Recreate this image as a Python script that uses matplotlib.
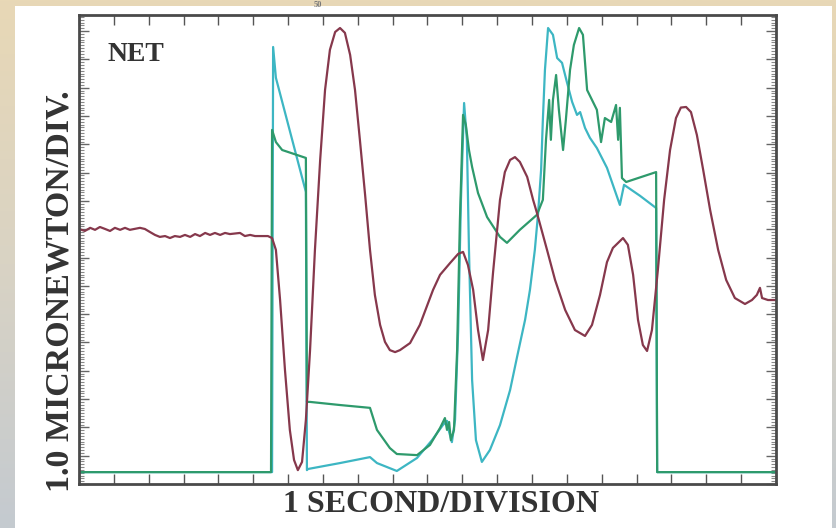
import numpy as np
import matplotlib
matplotlib.use("Agg")
import matplotlib.pyplot as plt
from matplotlib.patches import Rectangle
from matplotlib.ticker import MultipleLocator

# time in seconds (1 s / division), force in micronewtons (1.0 uN / division)
maroon_t = [0, 0.17, 0.32, 0.46, 0.60, 0.75, 0.89, 1.03, 1.18, 1.32, 1.46, 1.75, 1.89,
            2.04, 2.18, 2.32, 2.47, 2.61, 2.75, 2.90, 3.04, 3.19, 3.33, 3.47, 3.62, 3.76,
            3.90, 4.05, 4.19, 4.33, 4.62, 4.76, 4.91, 5.05, 5.25, 5.42, 5.54, 5.65, 5.77,
            5.91, 6.05, 6.17, 6.28, 6.40, 6.51, 6.63, 6.77, 6.92, 7.06, 7.20, 7.35, 7.49,
            7.63, 7.78, 7.92, 8.06, 8.21, 8.35, 8.49, 8.64, 8.78, 8.92, 9.07, 9.21, 9.50,
            9.78, 10.16, 10.36, 10.65, 10.88, 11.02, 11.16, 11.31, 11.45, 11.59, 11.74,
            11.88, 12.08, 12.22, 12.37, 12.51, 12.65, 12.86, 13.03, 13.14, 13.43, 13.66,
            13.95, 14.23, 14.52, 14.72, 14.95, 15.15, 15.32, 15.47, 15.61, 15.75, 15.90,
            16.04, 16.18, 16.30, 16.44, 16.61, 16.79, 16.96, 17.13, 17.27, 17.42, 17.56,
            17.73, 17.91, 18.11, 18.34, 18.57, 18.82, 19.11, 19.31, 19.45, 19.54, 19.60,
            19.77, 20.0]
maroon_f = [9.01, 8.94, 9.05, 8.98, 9.08, 9.01, 8.94, 9.05, 8.98, 9.05, 8.98, 9.05, 9.01,
            8.90, 8.80, 8.73, 8.76, 8.69, 8.76, 8.73, 8.80, 8.73, 8.83, 8.76, 8.87, 8.80,
            8.87, 8.80, 8.87, 8.83, 8.87, 8.76, 8.80, 8.76, 8.76, 8.76, 8.69, 8.27, 6.50,
            4.03, 1.91, 0.85, 0.49, 0.78, 2.26, 4.73, 8.27, 11.45, 13.92, 15.34, 15.97, 16.11,
            15.94, 15.16, 13.92, 12.16, 10.21, 8.27, 6.68, 5.62, 5.02, 4.73, 4.66, 4.73, 4.98,
            5.62, 6.86, 7.39, 7.81, 8.13, 8.20, 7.74, 6.86, 5.44, 4.38, 5.44,
            7.46, 10.04, 11.02, 11.45, 11.55, 11.38, 10.85, 10.04, 9.58, 8.27, 7.21,
            6.15, 5.44, 5.23, 5.62, 6.68, 7.84, 8.34, 8.52, 8.69, 8.45, 7.39,
            5.80, 4.91, 4.70, 5.44, 7.56, 10.04, 11.80, 12.93, 13.30, 13.32, 13.14,
            12.33, 11.10, 9.68, 8.27, 7.21, 6.57, 6.36, 6.50, 6.68, 6.93, 6.57,
            6.50, 6.50]

cyan_t = [0, 5.54, 5.57, 5.65, 6.51, 6.54, 6.57, 7.49, 8.35, 8.55, 9.12, 9.70, 10.13,
          10.44, 10.56, 10.62, 10.70, 10.79, 10.88, 10.96, 11.05, 11.13, 11.19, 11.28,
          11.39, 11.56, 11.79, 12.08, 12.37, 12.57, 12.80, 12.94, 13.08, 13.17, 13.26,
          13.31, 13.37, 13.46, 13.60, 13.72, 13.86, 14.00, 14.15, 14.29, 14.38, 14.52,
          14.66, 14.86, 15.15, 15.52, 15.64, 16.10, 16.56, 16.59, 20.0]
cyan_f = [0.42, 0.42, 15.44, 14.35, 10.32, 0.49, 0.53, 0.74, 0.95, 0.74, 0.46, 0.92, 1.55,
          2.08, 2.23, 1.84, 1.48, 2.26, 5.44, 10.04, 13.46, 12.16, 8.27, 3.67,
          1.55, 0.78, 1.20, 2.08, 3.32, 4.49, 5.80, 6.86, 8.27, 9.51, 11.10,
          12.86, 14.63, 16.11, 15.87, 15.05, 14.88, 14.20, 13.50, 13.04, 13.14, 12.58,
          12.23, 11.87, 11.17, 9.86, 10.57, 10.18, 9.75, 0.42, 0.42]

green_t = [0, 5.51, 5.54, 5.65, 5.83, 6.51, 6.54, 6.63, 7.49, 8.35, 8.55, 8.92, 9.12,
           9.70, 10.07, 10.36, 10.50, 10.56, 10.62, 10.67, 10.76, 10.85, 10.93, 11.02,
           11.10, 11.19, 11.28, 11.45, 11.71, 12.08, 12.28, 12.65, 13.14, 13.31, 13.40,
           13.49, 13.54, 13.60, 13.69, 13.77, 13.89, 13.97, 14.09, 14.20, 14.35, 14.46,
           14.58, 14.72, 14.86, 14.98, 15.09, 15.27, 15.41, 15.47, 15.52, 15.58, 15.70,
           16.56, 16.59, 20.0]
green_f = [0.42, 0.42, 12.51, 12.08, 11.80, 11.52, 2.90, 2.90, 2.79, 2.69, 1.91, 1.27, 1.06,
           1.02, 1.38, 1.98, 2.33, 1.91, 2.19, 1.55, 1.91, 4.73, 9.33, 13.04,
           12.69, 11.80, 11.20, 10.28, 9.43, 8.73, 8.52, 8.98, 9.51, 10.04, 12.16,
           13.57, 12.16, 13.57, 14.45, 13.22, 11.80, 12.86, 14.63, 15.51, 16.11, 15.87,
           13.92, 13.57, 13.22, 12.08, 12.93, 12.79, 13.39, 12.16, 13.29, 10.81, 10.67,
           11.02, 0.42, 0.42]

W, H = 837, 528
fig = plt.figure(figsize=(W / 100, H / 100), dpi=100)

# scanned page look: tinted backdrop with a white sheet on top
bg = fig.add_axes([0, 0, 1, 1])
grad = np.linspace(0, 1, 256).reshape(-1, 1)
bg.imshow(grad, aspect="auto", extent=[0, 1, 0, 1], origin="upper",
          cmap=matplotlib.colors.LinearSegmentedColormap.from_list(
              "scan", ["#e8d8b6", "#d9d3c4", "#c4cad0"]))
bg.add_patch(Rectangle((15 / W, 0), (832 - 15) / W, 1 - 6 / H,
                       facecolor="white", edgecolor="none"))
bg.set_xlim(0, 1)
bg.set_ylim(0, 1)
bg.axis("off")

ax = fig.add_axes([79 / W, 1 - 484 / H, (776 - 79) / W, (484 - 15) / H])
ax.patch.set_alpha(0)

lw = 1.6
ax.plot(cyan_t, cyan_f, color="#3db6c3", lw=lw)
ax.plot(green_t, green_f, color="#2e9a6c", lw=lw)
ax.plot(maroon_t, maroon_f, color="#86384c", lw=lw)

ax.set_xlim(0, 20)
ax.set_ylim(0, 16.57)
ax.xaxis.set_major_locator(MultipleLocator(1))
ax.yaxis.set_major_locator(MultipleLocator(1))
ax.yaxis.set_minor_locator(MultipleLocator(0.1))
ax.tick_params(axis="x", which="major", direction="in", top=True, bottom=True,
               length=7, width=1.0, color="#555555", labelbottom=False)
ax.tick_params(axis="y", which="major", direction="in", left=True, right=True,
               length=7, width=1.0, color="#666666", labelleft=False)
ax.tick_params(axis="y", which="minor", direction="in", left=True, right=True,
               length=3.5, width=0.8, color="#888888")
for s in ax.spines.values():
    s.set_linewidth(2.0)
    s.set_color("#4a4a4a")

serif = ["Liberation Serif", "DejaVu Serif"]
fig.text(108 / W, 1 - 61 / H, "NET", family=serif, weight="bold", fontsize=20,
         color="#333333", ha="left", va="baseline")
fig.text(441 / W, 1 - 512 / H, "1 SECOND/DIVISION", family=serif, weight="bold",
         fontsize=23, color="#333333", ha="center", va="baseline")
fig.text(60 / W, 1 - 291 / H, "1.0 MICRONEWTON/DIV.", family=serif, weight="bold",
         fontsize=24.5, color="#333333", ha="center", va="center", rotation=90)
# label of a neighbouring panel, mostly lost at the top edge of the scan
fig.text(318 / W, 1 - 1 / H, "50", family=serif, weight="bold", fontsize=6,
         color="#777777", ha="center", va="top")

fig.savefig("out.png", dpi=100)
